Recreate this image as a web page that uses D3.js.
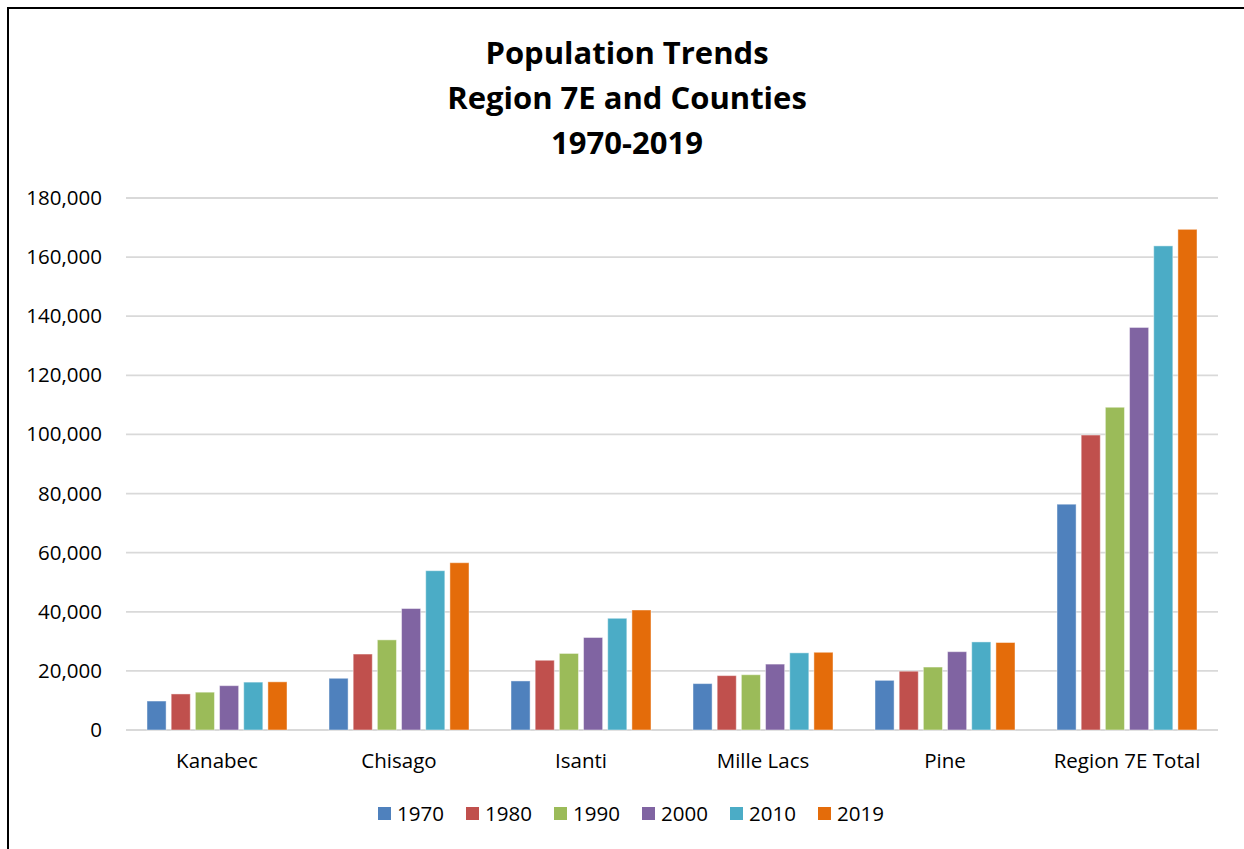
<!DOCTYPE html>
<html>
<head>
<meta charset="utf-8">
<script src="https://cdn.jsdelivr.net/npm/d3@7"></script>
<style>
  html, body { margin: 0; padding: 0; background: #ffffff; }
  svg { display: block; }
  text { font-family: "Open Sans", "DejaVu Sans", sans-serif; fill: #000; }
</style>
</head>
<body>
<svg id="chart" width="1244" height="849"></svg>
<script>
// ---- Data ----
const categories = ["Kanabec", "Chisago", "Isanti", "Mille Lacs", "Pine", "Region 7E Total"];
const years = ["1970", "1980", "1990", "2000", "2010", "2019"];
const pop1970 = [9800, 17500, 16600, 15700, 16800, 76400];
const pop1980 = [12200, 25700, 23600, 18400, 19900, 99800];
const pop1990 = [12800, 30500, 25900, 18700, 21300, 109200];
const pop2000 = [15000, 41100, 31300, 22300, 26500, 136200];
const pop2010 = [16200, 53900, 37800, 26100, 29800, 163800];
const pop2019 = [16300, 56600, 40600, 26300, 29600, 169400];
const yTicks = [0, 20000, 40000, 60000, 80000, 100000, 120000, 140000, 160000, 180000];
const titleLines = ["Population Trends", "Region 7E and Counties", "1970-2019"];
const colors = ["#4F81BD", "#C0504D", "#9BBB59", "#8064A2", "#4BACC6", "#E46C0A"];

const series = [pop1970, pop1980, pop1990, pop2000, pop2010, pop2019];

// ---- Layout ----
const svg = d3.select("#chart");
const plot = { left: 126, right: 1218, top: 198, bottom: 730 };

// border
svg.append("rect")
  .attr("x", 8).attr("y", 8)
  .attr("width", 1260).attr("height", 870)
  .attr("fill", "#fff")
  .attr("stroke", "#000").attr("stroke-width", 2);

// title
svg.append("g").selectAll("text")
  .data(titleLines)
  .join("text")
  .attr("x", 627)
  .attr("y", (d, i) => 64 + i * 45)
  .attr("text-anchor", "middle")
  .style("font-size", "31px")
  .style("font-weight", "700")
  .text(d => d);

// scales
const y = d3.scaleLinear().domain([0, 180000]).range([plot.bottom, plot.top]);
const x0 = d3.scaleBand().domain(categories).range([plot.left, plot.right]).padding(0);
const half = 70;
const x1 = d3.scaleBand().domain(years)
  .range([x0.bandwidth() / 2 - half, x0.bandwidth() / 2 + half])
  .paddingInner(0.21).paddingOuter(0);

// gridlines
svg.append("g").selectAll("line")
  .data(yTicks)
  .join("line")
  .attr("x1", plot.left).attr("x2", plot.right)
  .attr("y1", d => y(d)).attr("y2", d => y(d))
  .attr("stroke", "#d9d9d9").attr("stroke-width", 1.8);

// y axis labels
const fmt = d3.format(",");
svg.append("g").selectAll("text")
  .data(yTicks)
  .join("text")
  .attr("x", 102)
  .attr("y", d => y(d) + 7)
  .attr("text-anchor", "end")
  .style("font-size", "20.5px")
  .text(d => fmt(d));

// bars
const groups = svg.append("g").selectAll("g")
  .data(categories)
  .join("g")
  .attr("transform", d => `translate(${x0(d)},0)`);

groups.selectAll("rect")
  .data((c, ci) => years.map((yr, si) => ({ yr, si, v: series[si][ci] })))
  .join("rect")
  .attr("x", d => x1(d.yr))
  .attr("width", x1.bandwidth())
  .attr("y", d => y(d.v))
  .attr("height", d => y(0) - y(d.v))
  .attr("fill", d => colors[d.si])
  .attr("stroke", "rgba(255,255,255,0.45)")
  .attr("stroke-width", 1);

// category labels
svg.append("g").selectAll("text")
  .data(categories)
  .join("text")
  .attr("x", d => x0(d) + x0.bandwidth() / 2)
  .attr("y", 768)
  .attr("text-anchor", "middle")
  .style("font-size", "20.5px")
  .text(d => d);

// legend
const legendStart = 378;
const legendStep = 88;
const lg = svg.append("g").selectAll("g")
  .data(years)
  .join("g")
  .attr("transform", (d, i) => `translate(${legendStart + i * legendStep},0)`);
lg.append("rect")
  .attr("x", 0).attr("y", 807)
  .attr("width", 13).attr("height", 13)
  .attr("fill", (d, i) => colors[i]);
lg.append("text")
  .attr("x", 19).attr("y", 821)
  .style("font-size", "20.5px")
  .text(d => d);
</script>
</body>
</html>
